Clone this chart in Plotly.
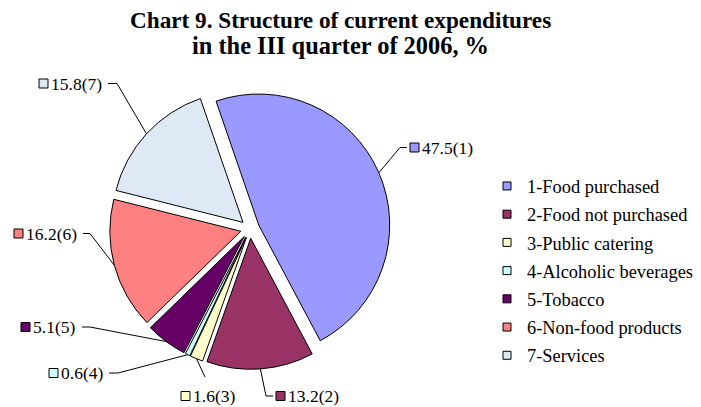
import math
import plotly.graph_objects as go

# ---------------- data ----------------
categories = ["1-Food purchased", "2-Food not purchased", "3-Public catering",
              "4-Alcoholic beverages", "5-Tobacco", "6-Non-food products", "7-Services"]
shares = [47.5, 13.2, 1.6, 0.6, 5.1, 16.2, 15.8]
slice_numbers = [1, 2, 3, 4, 5, 6, 7]
colors = ["#9999FF", "#993366", "#FFFFCC", "#CCFFFF", "#660066", "#FF8080", "#DFE9F5"]
title_lines = ["Chart 9. Structure of current expenditures", "in the III quarter of 2006, %"]

# ---------------- layout settings (pixels) ----------------
W, H = 701, 407
CX, CY = 250, 228.8      # pie centre
R = 131                  # pie radius
PULL = 0.0725            # explosion as a fraction of radius
ROTATION = -19           # first slice start angle (deg, clockwise from 12 o'clock)
SERIF = "Liberation Serif, Times New Roman, serif"
TITLE_SIZES = [23.2, 24.4]
TITLE_BASELINES = [28.3, 53.3]
LABEL_SIZE = 17.5
LEGEND_SIZE = 18.4

# label placement: square left x, label y, elbow x, elbow y, stub end x (None = no stub)
label_layout = [
    (410, 147.5, 400, 147.5, 407),
    (276, 396, 266, 396, 273),
    (181, 396, 205, 377, None),
    (49, 373, 118, 373, 109),
    (21, 327, 90, 327, 82),
    (14, 233.5, 90, 233.5, 83),
    (39, 83.5, 117, 83.5, 108),
]
SQ = 9  # label key square size


def px(x):
    return x / W


def py(y):
    return 1 - y / H


size = 2 * R * (1 + PULL)
fig = go.Figure()
fig.add_trace(go.Pie(
    labels=categories, values=shares, sort=False, direction="clockwise",
    rotation=ROTATION, pull=[PULL] * len(shares),
    marker=dict(colors=colors, line=dict(color="black", width=1)),
    textinfo="none", hoverinfo="label+value", showlegend=False,
    domain=dict(x=[px(CX - size / 2), px(CX + size / 2)],
                y=[py(CY + size / 2), py(CY - size / 2)]),
))

# legend via key traces (one group each so the row spacing can be set)
for cat, col in zip(categories, colors):
    fig.add_trace(go.Scatter(
        x=[None], y=[None], mode="markers", name=cat, legendgroup=cat,
        marker=dict(symbol="square", size=8, color=col, line=dict(color="black", width=1)),
        showlegend=True, hoverinfo="skip"))

shapes = []
annotations = []
total = sum(shares)
start = ROTATION
for v, n, col, lay in zip(shares, slice_numbers, colors, label_layout):
    span = v / total * 360
    mid = math.radians(start + span / 2)
    start += span
    ux, uy = math.sin(mid), -math.cos(mid)
    x0, y0 = CX + (R * (1 + PULL)) * ux, CY + (R * (1 + PULL)) * uy
    sqx, ly, ex, ey, stub = lay
    path = f"M {px(x0)},{py(y0)} L {px(ex)},{py(ey)}"
    if stub is not None:
        path += f" L {px(stub)},{py(ey)}"
    shapes.append(dict(type="path", xref="paper", yref="paper", path=path,
                       line=dict(color="black", width=1)))
    shapes.append(dict(type="rect", xref="paper", yref="paper",
                       x0=px(sqx), x1=px(sqx + SQ), y0=py(ly - SQ / 2), y1=py(ly + SQ / 2),
                       fillcolor=col, line=dict(color="black", width=1)))
    annotations.append(dict(xref="paper", yref="paper", x=px(sqx + SQ + 1), y=py(ly),
                            xanchor="left", yanchor="middle", showarrow=False,
                            text=f"{v:.1f}({n})",
                            font=dict(family=SERIF, size=LABEL_SIZE, color="black")))

# title, two centred lines
for line, baseline, fs in zip(title_lines, TITLE_BASELINES, TITLE_SIZES):
    annotations.append(dict(xref="paper", yref="paper", x=px(340), y=py(baseline - 0.34 * fs),
                            xanchor="center", yanchor="middle", showarrow=False, text=line,
                            font=dict(family=SERIF, size=fs, color="black", weight="bold")))

fig.update_layout(
    width=W, height=H, margin=dict(l=0, r=0, t=0, b=0),
    paper_bgcolor="white", plot_bgcolor="white",
    xaxis=dict(visible=False), yaxis=dict(visible=False),
    legend=dict(x=px(527 - 40), xanchor="left", y=py(167.5), yanchor="top",
                font=dict(family=SERIF, size=LEGEND_SIZE, color="black"),
                tracegroupgap=1.3, bgcolor="rgba(0,0,0,0)"),
    shapes=shapes, annotations=annotations,
)

fig.write_html("out.html")
